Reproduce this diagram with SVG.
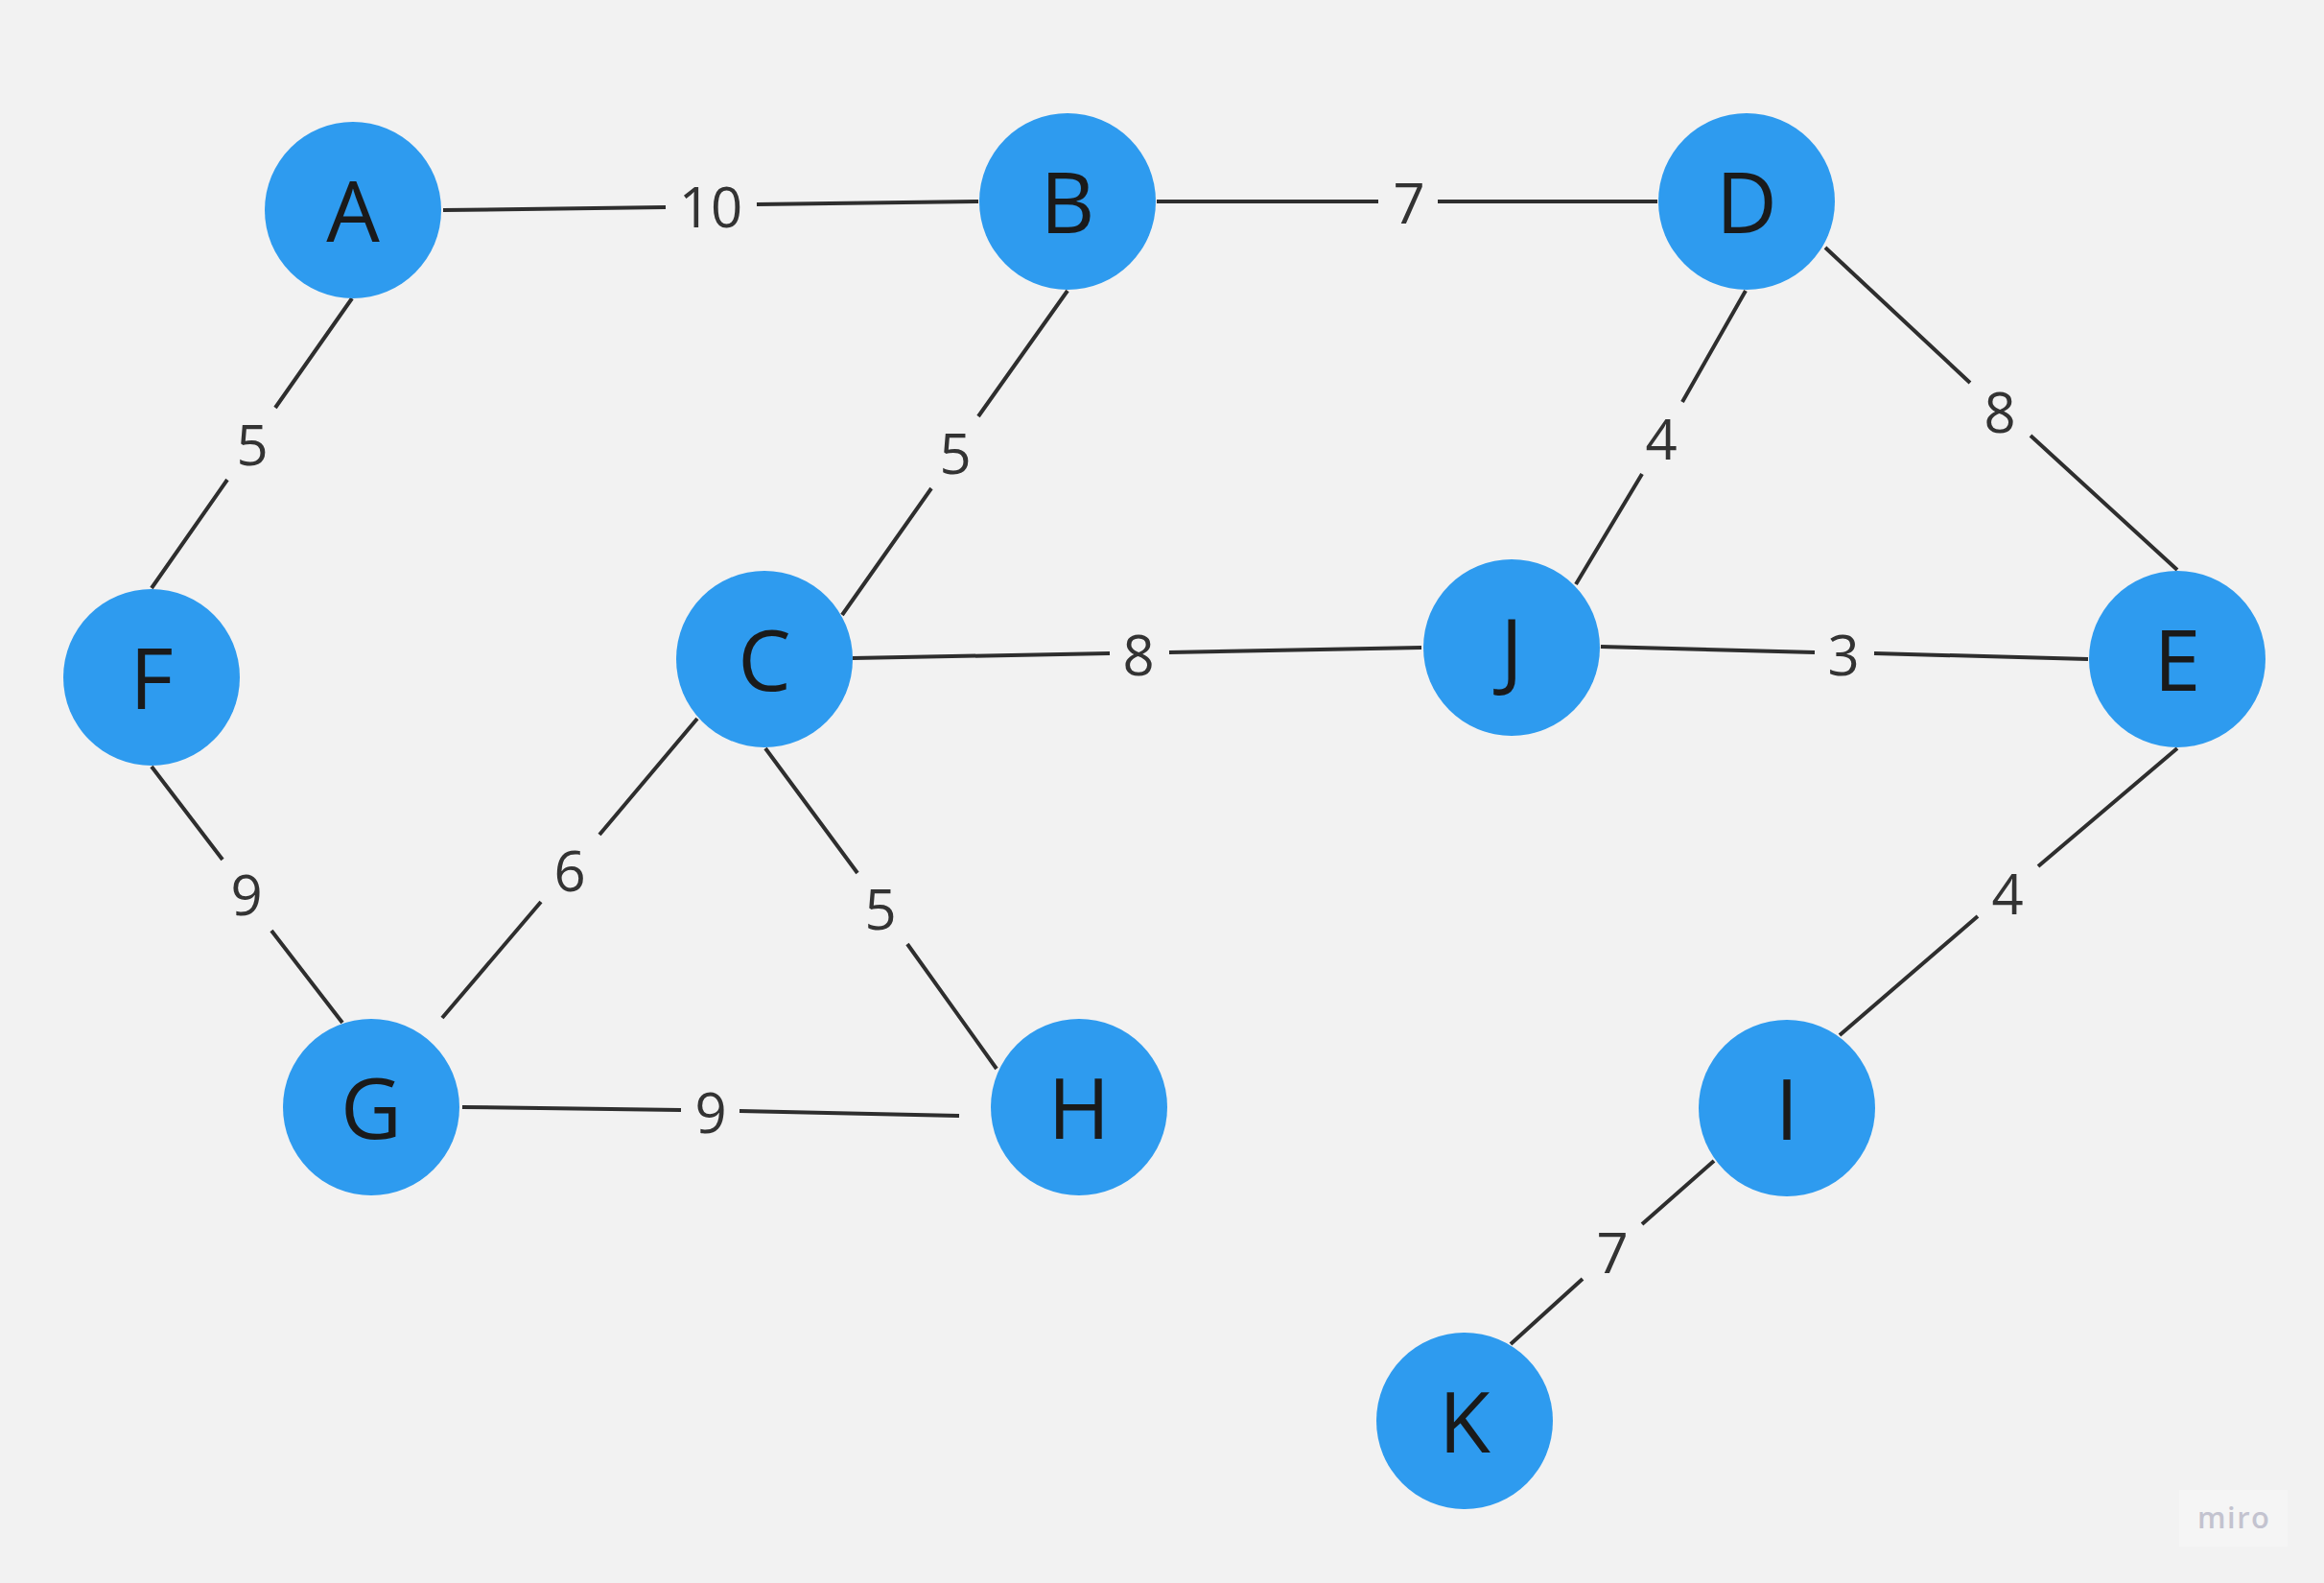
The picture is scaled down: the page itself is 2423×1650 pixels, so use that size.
<svg xmlns="http://www.w3.org/2000/svg" width="2423" height="1650" viewBox="0 0 2423 1650">
  <style>
    .node circle { fill: #2e9bef; }
    .node text { font-family: "Open Sans", "Noto Sans", sans-serif; font-size: 88px; fill: #1a1a1a; text-anchor: middle; }
    .edge path { fill: none; stroke: #2e2e2e; stroke-width: 4; stroke-linecap: butt; }
    .edge text { font-family: "Open Sans", "Noto Sans", sans-serif; font-size: 58px; fill: #333333; text-anchor: middle; }
    .brand { font-family: "Open Sans", "Noto Sans", sans-serif; font-size: 31px; font-weight: 600; fill: #c3c3cf; }
  </style>

  <rect x="0" y="0" width="2423" height="1650" fill="#f2f2f2"/>

  <!-- weighted edges: two segments each, broken around the weight label -->
  <g id="connectors">
    <g class="edge" id="edge-A-B">
      <path d="M462 219 L694 216 M789 213 L1020 210"/>
      <text x="741" y="237">10</text>
    </g>
    <g class="edge" id="edge-B-D">
      <path d="M1206 210 L1437 210 M1499 210 L1728 210"/>
      <text x="1469" y="233">7</text>
    </g>
    <g class="edge" id="edge-A-F">
      <path d="M367 311 L287 425 M237 500 L158 613"/>
      <text x="263" y="485">5</text>
    </g>
    <g class="edge" id="edge-F-G">
      <path d="M158 799 L232 896 M283 970 L357 1066"/>
      <text x="257" y="954">9</text>
    </g>
    <g class="edge" id="edge-B-C">
      <path d="M1113 303 L1020 434 M971 509 L878 641"/>
      <text x="996" y="494">5</text>
    </g>
    <g class="edge" id="edge-C-J">
      <path d="M889 686 L1157 681 M1219 680 L1482 675"/>
      <text x="1187" y="704">8</text>
    </g>
    <g class="edge" id="edge-D-J">
      <path d="M1820 303 L1754 419 M1712 494 L1643 609"/>
      <text x="1732" y="479">4</text>
    </g>
    <g class="edge" id="edge-D-E">
      <path d="M1903 258 L2054 399 M2117 454 L2270 594"/>
      <text x="2085" y="451">8</text>
    </g>
    <g class="edge" id="edge-J-E">
      <path d="M1669 674 L1892 680 M1954 681 L2177 687"/>
      <text x="1922" y="704">3</text>
    </g>
    <g class="edge" id="edge-C-G">
      <path d="M727 749 L625 870 M564 940 L461 1061"/>
      <text x="594" y="929">6</text>
    </g>
    <g class="edge" id="edge-C-H">
      <path d="M798 780 L894 910 M946 984 L1039 1114"/>
      <text x="918" y="969">5</text>
    </g>
    <g class="edge" id="edge-G-H">
      <path d="M482 1154 L710 1157 M771 1158 L1000 1163"/>
      <text x="741" y="1181">9</text>
    </g>
    <g class="edge" id="edge-E-I">
      <path d="M2270 780 L2125 903 M2062 955 L1918 1079"/>
      <text x="2093" y="953">4</text>
    </g>
    <g class="edge" id="edge-I-K">
      <path d="M1787 1210 L1712 1276 M1650 1333 L1575 1401"/>
      <text x="1681" y="1327">7</text>
    </g>
  </g>

  <!-- vertices -->
  <g class="node" id="node-A"><circle cx="368" cy="219" r="92"/><text x="368" y="252">A</text></g>
  <g class="node" id="node-B"><circle cx="1113" cy="210" r="92"/><text x="1113" y="243">B</text></g>
  <g class="node" id="node-D"><circle cx="1821" cy="210" r="92"/><text x="1821" y="243">D</text></g>
  <g class="node" id="node-F"><circle cx="158" cy="706" r="92"/><text x="158" y="739">F</text></g>
  <g class="node" id="node-C"><circle cx="797" cy="687" r="92"/><text x="797" y="720">C</text></g>
  <g class="node" id="node-J"><circle cx="1576" cy="675" r="92"/><text x="1576" y="708">J</text></g>
  <g class="node" id="node-E"><circle cx="2270" cy="687" r="92"/><text x="2270" y="720">E</text></g>
  <g class="node" id="node-G"><circle cx="387" cy="1154" r="92"/><text x="387" y="1187">G</text></g>
  <g class="node" id="node-H"><circle cx="1125" cy="1154" r="92"/><text x="1125" y="1187">H</text></g>
  <g class="node" id="node-I"><circle cx="1863" cy="1155" r="92"/><text x="1863" y="1188">I</text></g>
  <g class="node" id="node-K"><circle cx="1527" cy="1481" r="92"/><text x="1527" y="1514">K</text></g>

  <!-- corner badge -->
  <g id="badge">
    <rect x="2272" y="1553" width="113" height="59" fill="#f5f5f5"/>
    <text class="brand" x="2291" y="1593" textLength="75" lengthAdjust="spacing">miro</text>
  </g>
</svg>
